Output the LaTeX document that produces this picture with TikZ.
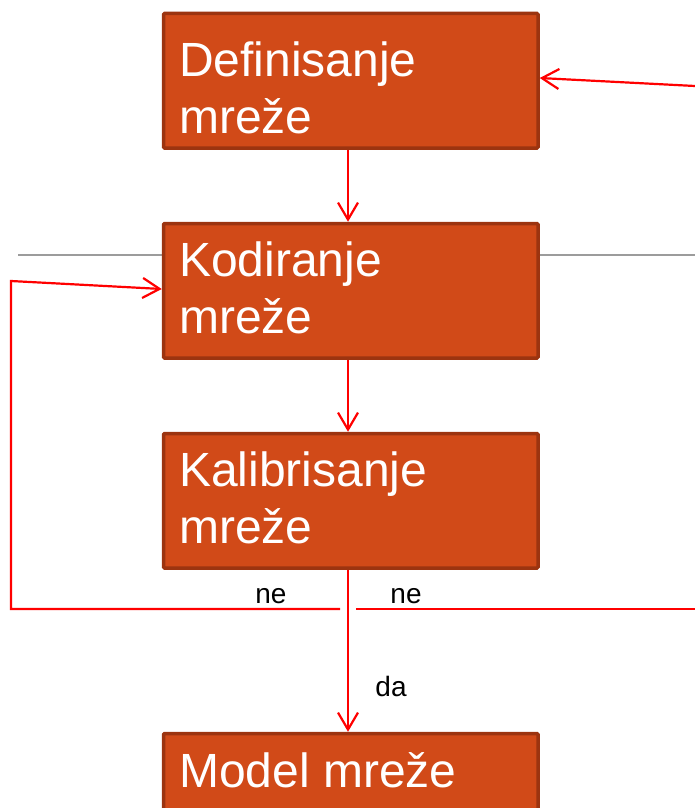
\documentclass[tikz,border=0pt]{standalone}
\usepackage{fontspec}
\setmainfont{Liberation Sans}
\usetikzlibrary{arrows.meta}
\definecolor{boxfill}{HTML}{D14A18}
\definecolor{boxedge}{HTML}{9C3410}
\definecolor{flowred}{HTML}{FF0000}
\definecolor{rulegray}{HTML}{9C9C9C}
\begin{document}
\begin{tikzpicture}[x=1pt,y=-1pt,
  stage/.style={draw=boxedge, line width=3.5pt, fill=boxfill, rounded corners=1pt,
    minimum width=374.5pt, minimum height=134.5pt, inner sep=0pt, anchor=north west},
  stagetext/.style={text=white, font=\fontsize{48}{57}\selectfont, align=left,
    inner sep=0pt, anchor=base west},
  flow/.style={draw=flowred, line width=2.2pt, -{Straight Barb[length=17pt,width=20pt]}},
  plain/.style={draw=flowred, line width=2.2pt},
  answer/.style={font=\fontsize{28}{30}\selectfont, inner sep=0pt}]
\useasboundingbox (0,0) rectangle (695,808);

% thin horizontal rule behind the boxes
\draw[rulegray, line width=1.5pt] (18,255) -- (695,255);

% process boxes
\node[stage] (b1) at (161.75,11.75) {};
\node[stage] (b2) at (161.75,221.75) {};
\node[stage] (b3) at (161.75,431.75) {};
\node[stage] (b4) at (161.75,731.75) {};

% box captions (base anchor sits on the last line)
\node[stagetext] (t1) at (179,133) {Definisanje\\mreže};
\node[stagetext] (t2) at (179,333) {Kodiranje\\mreže};
\node[stagetext] (t3) at (179,543) {Kalibrisanje\\mreže};
\node[stagetext] (t4) at (179,787) {Model mreže};

% loop end points
\coordinate (lfork) at (340,609);
\coordinate (lcorner) at (11,609);
\coordinate (ltop) at (11,281);
\coordinate (rfork) at (356,609);
\coordinate (rend) at (695,609);
\coordinate (rin) at (695,86);

% main flow
\draw[flow] (b1.south -| 348,0) -- (b2.north -| 348,0);
\draw[flow] (b2.south -| 348,0) -- (b3.north -| 348,0);
\draw[flow] (b3.south -| 348,0) -- (b4.north -| 348,0);

% feedback branches
\draw[flow] (lfork) -- (lcorner) -- (ltop) -- (b2.west |- 0,289);
\draw[plain] (rfork) -- (rend);
\draw[flow] (rin) -- (b1.east |- 0,78);

% answers
\node[answer] (ne1) at (271,596) {ne};
\node[answer] (ne2) at (406,596) {ne};
\node[answer] (da) at (391,686) {da};
\end{tikzpicture}
\end{document}
